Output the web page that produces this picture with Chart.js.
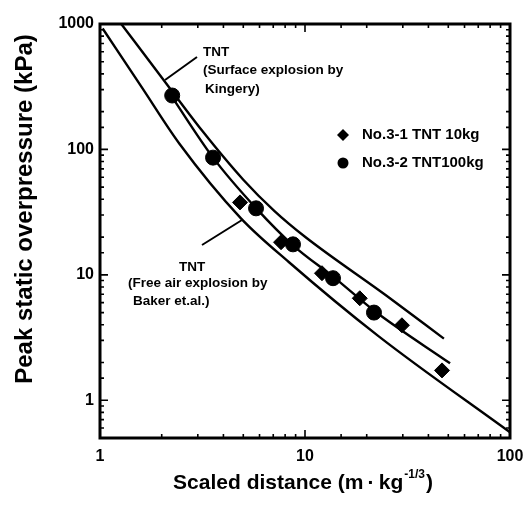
<!DOCTYPE html>
<html>
<head>
<meta charset="utf-8">
<script src="https://cdn.jsdelivr.net/npm/chart.js@4.4.1/dist/chart.umd.min.js"></script>
<style>
  html, body { margin: 0; padding: 0; background: #fff; }
  #wrap { width: 526px; height: 507px; }
</style>
</head>
<body>
<div id="wrap"><canvas id="blastChart"></canvas></div>
<script>
// scaled distance Z (m/kg^1/3) against peak static overpressure (kPa)
const kingeryZ = [1.27, 2.0, 3.16, 5.0, 7.1, 10, 25, 47.6];
const kingeryP = [1000, 375, 140, 57.3, 32.2, 20.1, 6.8, 3.1];

const bakerZ = [1.03, 1.6, 2.43, 4.87, 8.36, 22.9, 100];
const bakerP = [921, 312, 112, 28.2, 12.6, 3.23, 0.555];

const fitZ = [2.17, 3.56, 5.77, 8.74, 13.9, 22, 51];
const fitP = [285, 86, 34, 17.2, 9.5, 5.1, 1.97];

const test31Z = [4.82, 7.64, 12.1, 18.5, 29.7, 46.6];
const test31P = [37.8, 18.2, 10.3, 6.5, 3.96, 1.73];

const test32Z = [2.25, 3.56, 5.77, 8.74, 13.7, 21.7];
const test32P = [269, 86, 33.9, 17.5, 9.4, 5.0];

const xLabels = [1, 10, 100];
const yLabels = [1, 10, 100, 1000];

const FONT = "'Liberation Sans', Arial, sans-serif";

const toPoints = (zs, ps) => zs.map((z, i) => ({ x: z, y: ps[i] }));
const isMajor = (v, list) => list.some(m => Math.abs(v - m) < 1e-9);

function curve(label, zs, ps) {
    return {
        label: label,
        data: toPoints(zs, ps),
        showLine: true,
        borderColor: '#000',
        borderWidth: 2.4,
        pointRadius: 0,
        cubicInterpolationMode: 'monotone',
        fill: false
    };
}

// keep the plot box where it belongs, no room reserved for edge labels
function fixBox(size) {
    return s => {
        if (s.isHorizontal()) s.height = size; else s.width = size;
        s.paddingLeft = 0; s.paddingRight = 0;
        s.paddingTop = 0; s.paddingBottom = 0;
    };
}

// inward tick marks on all four sides plus the heavy frame
const frameTicks = {
    id: 'frameTicks',
    afterDatasetsDraw(chart) {
        const { ctx, chartArea: a, scales: { x, y } } = chart;
        ctx.save();
        ctx.strokeStyle = '#000';
        ctx.lineWidth = 1.6;
        ctx.beginPath();
        x.ticks.forEach(t => {
            const px = x.getPixelForValue(t.value);
            const len = isMajor(t.value, xLabels) ? 8 : 4;
            ctx.moveTo(px, a.bottom); ctx.lineTo(px, a.bottom - len);
            ctx.moveTo(px, a.top); ctx.lineTo(px, a.top + len);
        });
        y.ticks.forEach(t => {
            const py = y.getPixelForValue(t.value);
            const len = isMajor(t.value, yLabels) ? 8 : 4;
            ctx.moveTo(a.left, py); ctx.lineTo(a.left + len, py);
            ctx.moveTo(a.right, py); ctx.lineTo(a.right - len, py);
        });
        ctx.stroke();
        ctx.lineWidth = 3;
        ctx.strokeRect(a.left, a.top, a.right - a.left, a.bottom - a.top);
        ctx.restore();
    }
};

// axis titles, curve captions and the legend
const captions = {
    id: 'captions',
    afterDraw(chart) {
        const { ctx, chartArea: a } = chart;
        ctx.save();
        ctx.fillStyle = '#000';
        ctx.strokeStyle = '#000';

        // y title
        ctx.save();
        ctx.translate(25, 209);
        ctx.rotate(-Math.PI / 2);
        ctx.font = 'bold 24px ' + FONT;
        ctx.textAlign = 'center';
        ctx.textBaseline = 'middle';
        ctx.fillText('Peak static overpressure (kPa)', 0, 0);
        ctx.restore();

        // x title with superscript exponent
        const main = 'Scaled distance (m\u2009\u00b7\u2009kg';
        const sup = '-1/3';
        ctx.textBaseline = 'alphabetic';
        ctx.font = 'bold 21px ' + FONT;
        const w1 = ctx.measureText(main).width;
        const w3 = ctx.measureText(')').width;
        ctx.font = 'bold 12px ' + FONT;
        const w2 = ctx.measureText(sup).width;
        const tx = (a.left + a.right) / 2 - 3 - (w1 + w2 + w3) / 2;
        const base = 489;
        ctx.font = 'bold 21px ' + FONT;
        ctx.textAlign = 'left';
        ctx.fillText(main, tx, base);
        ctx.font = 'bold 12px ' + FONT;
        ctx.fillText(sup, tx + w1 + 1, base - 11);
        ctx.font = 'bold 21px ' + FONT;
        ctx.fillText(')', tx + w1 + w2 + 2, base);

        // curve captions
        ctx.font = 'bold 13.5px ' + FONT;
        ctx.textBaseline = 'middle';
        ctx.fillText('TNT', 203, 52);
        ctx.fillText('(Surface explosion by', 203, 70);
        ctx.fillText('Kingery)', 205, 89);
        ctx.fillText('TNT', 179, 267);
        ctx.fillText('(Free air explosion by', 128, 283);
        ctx.fillText('Baker et.al.)', 133, 301);

        ctx.lineWidth = 2;
        ctx.beginPath();
        ctx.moveTo(197, 57); ctx.lineTo(165, 80);
        ctx.moveTo(202, 245); ctx.lineTo(242, 220);
        ctx.stroke();

        // legend
        const sets = chart.data.datasets.filter(d => !d.showLine);
        sets.forEach((d, i) => {
            const ly = 135 + i * 28;
            ctx.beginPath();
            if (d.pointStyle === 'rectRot') {
                ctx.moveTo(343, ly - 6); ctx.lineTo(349, ly);
                ctx.lineTo(343, ly + 6); ctx.lineTo(337, ly);
                ctx.closePath();
            } else {
                ctx.arc(343, ly, 5.5, 0, Math.PI * 2);
            }
            ctx.fill();
            ctx.font = 'bold 15px ' + FONT;
            ctx.fillText(d.label, 362, ly);
        });
        ctx.restore();
    }
};

new Chart(document.getElementById('blastChart'), {
    type: 'scatter',
    data: {
        datasets: [
            curve('TNT (Surface explosion by Kingery)', kingeryZ, kingeryP),
            curve('TNT (Free air explosion by Baker et.al.)', bakerZ, bakerP),
            curve('Fit', fitZ, fitP),
            {
                label: 'No.3-1 TNT 10kg',
                data: toPoints(test31Z, test31P),
                pointStyle: 'rectRot',
                pointRadius: 7.5,
                backgroundColor: '#000',
                borderColor: '#000',
                showLine: false
            },
            {
                label: 'No.3-2 TNT100kg',
                data: toPoints(test32Z, test32P),
                pointStyle: 'circle',
                pointRadius: 7.5,
                backgroundColor: '#000',
                borderColor: '#000',
                showLine: false
            }
        ]
    },
    options: {
        responsive: true,
        maintainAspectRatio: false,
        animation: false,
        layout: { padding: { top: 24, right: 16, left: 0, bottom: 0 } },
        plugins: { legend: { display: false }, tooltip: { enabled: false } },
        scales: {
            x: {
                type: 'logarithmic',
                min: 1,
                max: 100,
                afterFit: fixBox(69),
                grid: { display: false, drawTicks: false },
                border: { display: false },
                ticks: {
                    autoSkip: false,
                    maxRotation: 0,
                    padding: 9,
                    color: '#000',
                    font: { family: FONT, size: 16, weight: 'bold' },
                    callback: v => isMajor(v, xLabels) ? String(v) : ''
                }
            },
            y: {
                type: 'logarithmic',
                min: 0.5,
                max: 1000,
                afterFit: fixBox(100),
                grid: { display: false, drawTicks: false },
                border: { display: false },
                ticks: {
                    autoSkip: false,
                    padding: 6,
                    color: '#000',
                    font: { family: FONT, size: 16, weight: 'bold' },
                    callback: v => isMajor(v, yLabels) ? String(v) : ''
                }
            }
        }
    },
    plugins: [frameTicks, captions]
});
</script>
</body>
</html>
